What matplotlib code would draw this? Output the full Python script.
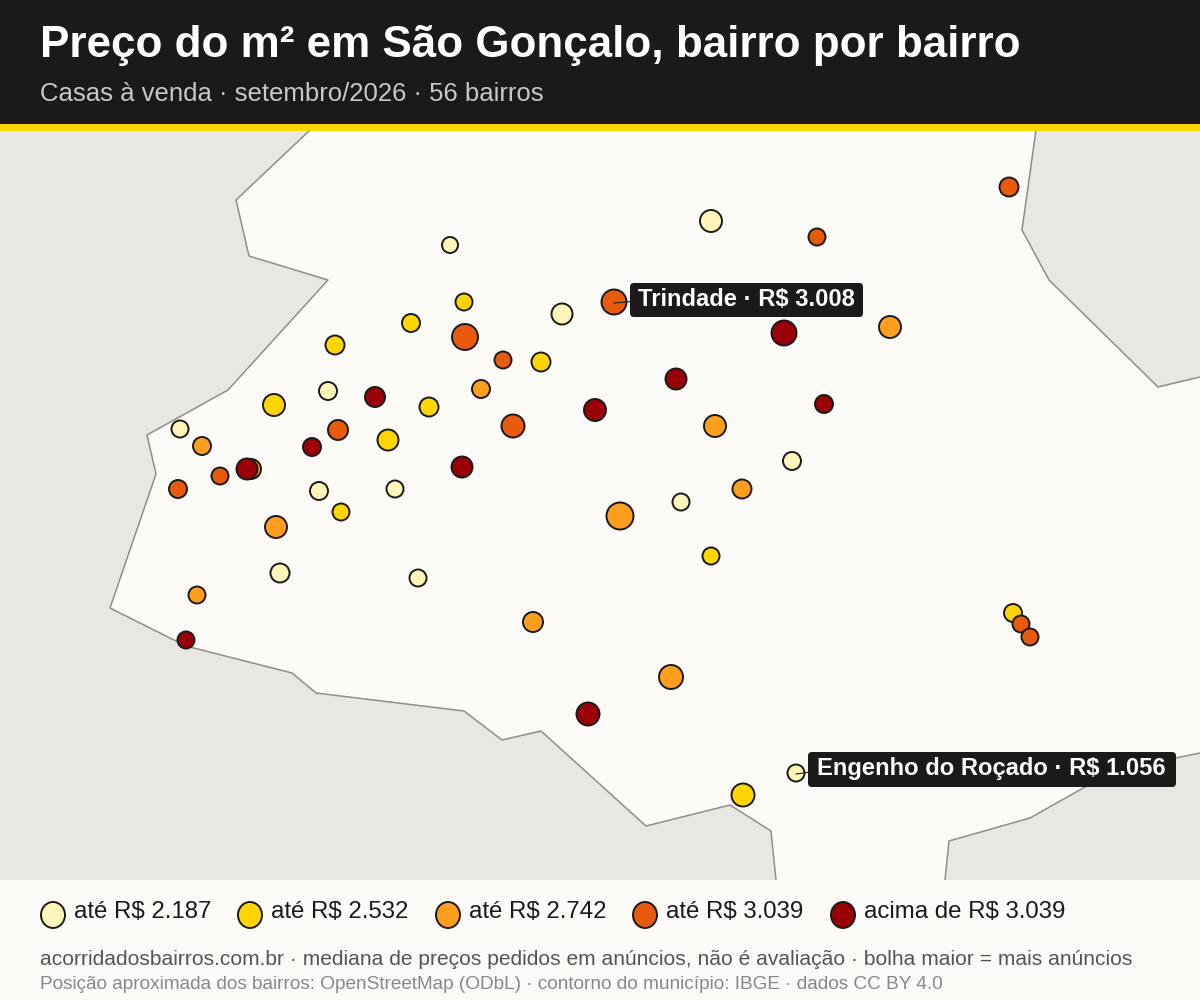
import matplotlib
matplotlib.use('Agg')
import matplotlib.pyplot as plt
from matplotlib.patches import Rectangle, Polygon, Ellipse, FancyBboxPatch

plt.rcParams['font.family'] = ['Liberation Sans', 'DejaVu Sans']

pale = [(450, 245, 8), (711, 221, 11), (562, 314, 10.5), (328, 391, 9), (180, 429, 8.5),
        (319, 491, 9), (395, 489, 8.5), (681, 502, 8.5), (792, 461, 9), (280, 573, 9.5),
        (418, 578, 8.5), (796, 773, 8.5)]
yellow = [(464, 302, 8.5), (411, 323, 9), (335, 345, 9.5), (541, 362, 9.5), (274, 405, 11),
          (429, 407, 9.5), (388, 440, 10.5), (341, 512, 8.5), (711, 556, 8.5), (1013, 613, 9),
          (743, 795, 11.5)]
orange = [(890, 327, 11), (481, 389, 9), (202, 446, 9), (251, 469, 10), (715, 426, 11),
          (742, 489, 9.5), (276, 527, 11), (620, 516, 13.5), (197, 595, 8.5), (533, 622, 10),
          (671, 677, 12)]
deep = [(1009, 187, 9.5), (817, 237, 8.5), (614, 302, 12.5), (465, 337, 13), (503, 360, 8.5),
        (338, 430, 10), (513, 426, 11.5), (220, 476, 8.5), (178, 489, 9), (1021, 624, 8.5),
        (1030, 637, 8.5)]
red = [(784, 333, 12.5), (676, 379, 10.5), (375, 397, 10), (595, 410, 11), (824, 404, 9),
       (312, 447, 9), (247, 469, 10.5), (462, 467, 10.5), (186, 640, 8.5), (588, 714, 11.5)]

colors = ['#FFF5B8', '#FFD500', '#FE9E1C', '#E85A0C', '#990008']
legend_labels = ['até R$ 2.187', 'até R$ 2.532', 'até R$ 2.742', 'até R$ 3.039', 'acima de R$ 3.039']
legend_x = [53, 250, 448, 645, 843]

west = [(310, 130), (236, 200), (249, 256), (328, 280), (228, 390), (147, 435), (156, 474),
        (110, 608), (186, 646), (292, 673), (316, 693), (464, 711), (502, 740), (541, 731),
        (646, 826), (730, 805), (771, 831), (776, 880)]
northeast = [(1036, 130), (1022, 230), (1049, 280), (1158, 387), (1200, 377)]
southeast = [(945, 880), (949, 841), (1030, 818), (1085, 787), (1120, 768), (1176, 758), (1200, 753)]

ink = '#1a1a1a'
paper = '#FCFBF7'
land = '#E9E7E1'
border = '#8F8E87'

fig = plt.figure(figsize=(12, 10), dpi=100, facecolor=paper)
ax = fig.add_axes([0, 0, 1, 1])
ax.set_xlim(0, 1200)
ax.set_ylim(1000, 0)
ax.axis('off')

# outside of the municipality
ax.add_patch(Polygon([(0, 130)] + west + [(0, 880)], fc=land, ec='none', zorder=1))
ax.add_patch(Polygon(northeast + [(1200, 130)], fc=land, ec='none', zorder=1))
ax.add_patch(Polygon(southeast + [(1200, 880)], fc=land, ec='none', zorder=1))
for line in [west, northeast, southeast]:
    ax.plot([p[0] for p in line], [p[1] for p in line], color=border, lw=1.1, zorder=2)

# bubbles
for group, c in zip([pale, yellow, orange, deep, red], colors):
    xs = [p[0] for p in group]
    ys = [p[1] for p in group]
    sizes = [(2 * p[2] * 0.72) ** 2 for p in group]
    ax.scatter(xs, ys, s=sizes, c=c, edgecolors=ink, linewidths=1.4, zorder=3)

# labels
ax.plot([614, 638], [303, 301], color=ink, lw=0.8, zorder=4)
ax.plot([796, 818], [774, 771], color=ink, lw=0.8, zorder=4)
ax.add_patch(FancyBboxPatch((633, 286), 227, 28, boxstyle='round,pad=3,rounding_size=4',
                            fc=ink, ec='none', zorder=5))
ax.add_patch(FancyBboxPatch((811, 755), 362, 29, boxstyle='round,pad=3,rounding_size=4',
                            fc=ink, ec='none', zorder=5))
ax.text(638, 299, 'Trindade · R$ 3.008', color='white', fontsize=17.1, fontweight='bold',
        va='center', ha='left', zorder=6)
ax.text(817, 769, 'Engenho do Roçado · R$ 1.056', color='white', fontsize=17.1, fontweight='bold',
        va='center', ha='left', zorder=6)

# header
ax.add_patch(Rectangle((0, 0), 1200, 124, fc=ink, ec='none', zorder=6))
ax.add_patch(Rectangle((0, 124), 1200, 7, fc='#FFD500', ec='none', zorder=6))
ax.text(40, 45, 'Preço do m² em São Gonçalo, bairro por bairro', color='white', fontsize=31.7,
        fontweight='bold', va='center', ha='left', zorder=7)
ax.text(40, 94, 'Casas à venda · setembro/2026 · 56 bairros', color='#C8C8C8', fontsize=18.55,
        va='center', ha='left', zorder=7)

# footer
ax.add_patch(Rectangle((0, 880), 1200, 120, fc=paper, ec='none', zorder=6))
for x, c, t in zip(legend_x, colors, legend_labels):
    ax.add_patch(Ellipse((x, 915), 24, 26, fc=c, ec=ink, lw=1.4, zorder=7))
    ax.text(x + 21, 911.5, t, color=ink, fontsize=17.3, va='center', ha='left', zorder=7)
ax.text(40, 959.5, 'acorridadosbairros.com.br · mediana de preços pedidos em anúncios, não é avaliação · bolha maior = mais anúncios',
        color='#555555', fontsize=15.15, va='center', ha='left', zorder=7)
ax.text(40, 984.5, 'Posição aproximada dos bairros: OpenStreetMap (ODbL) · contorno do município: IBGE · dados CC BY 4.0',
        color='#888888', fontsize=13.65, va='center', ha='left', zorder=7)

fig.savefig('out.png', dpi=100, facecolor=paper)
